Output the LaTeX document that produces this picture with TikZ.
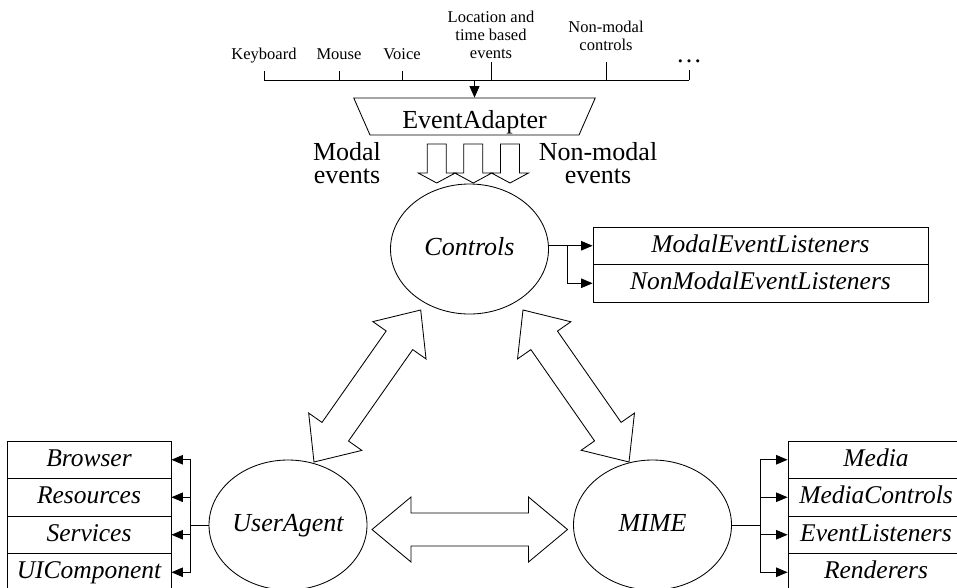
\documentclass[tikz,border=0pt]{standalone}
\usepackage{fontspec}
\setmainfont{Liberation Serif}
\usetikzlibrary{arrows.meta,calc,shapes.geometric}

% hollow double-headed block arrow between two tip coordinates
% #1,#2 tips, #3 head length, #4 head half width, #5 shaft half width
\newcommand\dblblockarrow[5]{%
  \coordinate (dbA) at ($(#1)!#3!(#2)$);
  \coordinate (dbB) at ($(#2)!#3!(#1)$);
  \draw[blk] (#1) -- ($(dbA)!#4!90:(#2)$) -- ($(dbA)!#5!90:(#2)$)
    -- ($(dbB)!#5!-90:(#1)$) -- ($(dbB)!#4!-90:(#1)$) -- (#2)
    -- ($(dbB)!#4!90:(#1)$) -- ($(dbB)!#5!90:(#1)$)
    -- ($(dbA)!#5!-90:(#2)$) -- ($(dbA)!#4!-90:(#2)$) -- cycle;
}
% hollow downward block arrow starting at the tail coordinate #1
\newcommand\downblockarrow[1]{%
  \draw[blk] ($(#1)+(-9.5,0)$) -- ++(0,29) -- ++(-9,0) -- ($(#1)+(0,39)$)
    -- ++(18.5,-10) -- ++(-9,0) -- ++(0,-29) -- cycle;
}

\begin{document}
\begin{tikzpicture}[x=1pt,y=-1pt,line width=0.85pt,line join=miter,
  lbl/.style={font=\fontsize{16.5}{18}\selectfont, align=center, inner sep=0pt},
  bigtxt/.style={font=\fontsize{26}{23}\selectfont, align=center, inner sep=0pt},
  oval/.style={ellipse, draw, minimum width=158pt, minimum height=130pt, inner sep=0pt,
    font=\fontsize{26}{30}\selectfont\itshape, text height=18pt, text depth=5pt},
  cell/.style={draw, inner sep=0pt, minimum height=37.5pt,
    font=\fontsize{25.5}{30}\selectfont\itshape, text height=18pt, text depth=5pt},
  tip/.style={-{Triangle[length=11.5pt,width=9.5pt]}},
  blk/.style={draw, fill=white}]
\useasboundingbox (0,0) rectangle (957,587);

% ---- event sources on the input bus ----
\node[lbl, anchor=base]  (kb)   at (264,59)   {Keyboard};
\node[lbl, anchor=base]  (ms)   at (339,59)   {Mouse};
\node[lbl, anchor=base]  (vc)   at (402,59)   {Voice};
\node[lbl, anchor=south] (loc)  at (491,59.5) {Location and\\time based\\events};
\node[lbl, anchor=south] (nmc)  at (606,51)   {Non-modal\\controls};
\node[font=\fontsize{26}{30}\selectfont, inner sep=0pt, anchor=base] (more) at (689,62) {\ldots};

\coordinate (busL) at (264,80);
\coordinate (busR) at (689,80);
\draw (busL) -- (busR);
\draw ([yshift=-12pt]kb.base) -- (kb.base |- busL);
\draw ([yshift=-12pt]ms.base) -- (ms.base |- busL);
\draw ([yshift=-12pt]vc.base) -- (vc.base |- busL);
\draw ([yshift=-2.5pt]loc.south) -- (loc.south |- busL);
\draw ([yshift=-11pt]nmc.south) -- (nmc.south |- busL);
\draw ([yshift=-8pt]more.base) -- (more.base |- busL);

% ---- adapter ----
\node[trapezium, trapezium angle=64, trapezium stretches=true, shape border rotate=180,
  draw, minimum width=242pt, minimum height=37pt, inner sep=0pt,
  font=\fontsize{26}{30}\selectfont, text height=23pt, text depth=0pt]
  (ea) at (474.5,116.5) {EventAdapter};
\draw[-{Triangle[length=11.5pt,width=10pt]}] (ea.north |- busL) -- (ea.north);

% ---- event streams into the controls ----
\node[bigtxt, anchor=north] (modal)    at (347,142.2) {Modal\\events};
\node[bigtxt, anchor=north] (nonmodal) at (598,142.2) {Non-modal\\events};
\coordinate (s1) at (436.7,144);
\coordinate (s2) at (473.3,144);
\coordinate (s3) at (510,144);
\downblockarrow{s1}
\downblockarrow{s2}
\downblockarrow{s3}

% ---- main components ----
\node[oval] (ctl)  at (469.5,249) {Controls};
\node[oval] (ua)   at (288,525)   {UserAgent};
\node[oval] (mime) at (652.5,525) {MIME};

% ---- listeners of the controls ----
\node[cell, minimum width=335pt] (mel)  at (760.5,245.75) {ModalEventListeners};
\node[cell, minimum width=335pt] (nmel) at (760.5,283.25) {NonModalEventListeners};
\coordinate (jt) at (567,0);
\draw[tip] (ctl.east |- mel.west) -- (mel.west);
\draw[tip] (jt |- mel.west) |- (nmel.west);

% ---- user agent parts ----
\node[cell, minimum width=164pt] (br) at (89,459.75) {Browser};
\node[cell, minimum width=164pt] (rs) at (89,497.25) {Resources};
\node[cell, minimum width=164pt] (sv) at (89,534.75) {Services};
\node[cell, minimum width=164pt] (ui) at (89,572.25) {UIComponent};
\coordinate (jl) at (190,0);
\foreach \b in {br,rs,sv,ui}
  \draw[tip] (ua.west) -- (jl |- ua.west) |- (\b.east);

% ---- MIME parts ----
\node[cell, minimum width=176pt] (md) at (876,459.75) {Media};
\node[cell, minimum width=176pt] (mc) at (876,497.25) {MediaControls};
\node[cell, minimum width=176pt] (el) at (876,534.75) {EventListeners};
\node[cell, minimum width=176pt] (rd) at (876,572.25) {Renderers};
\coordinate (jr) at (760,0);
\foreach \b in {md,mc,el,rd}
  \draw[tip] (mime.east) -- (jr |- mime.east) |- (\b.west);

% ---- two-way links between the components ----
\coordinate (dUL) at (420.7,310);
\coordinate (dLL) at (314,462);
\coordinate (dUR) at (523,310);
\coordinate (dLR) at (629,462);
\coordinate (hL)  at (372,529.5);
\coordinate (hR)  at (567.5,529.5);
\dblblockarrow{dUL}{dLL}{37pt}{32.5pt}{16.2pt}
\dblblockarrow{dUR}{dLR}{37pt}{32.5pt}{16.2pt}
\dblblockarrow{hL}{hR}{39pt}{32.5pt}{16.5pt}
\end{tikzpicture}
\end{document}
